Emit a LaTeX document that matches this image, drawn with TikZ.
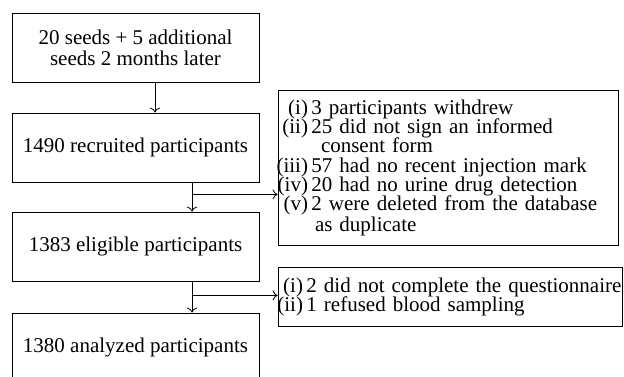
\documentclass[tikz,border=0pt]{standalone}
\usepackage{fontspec}
\setmainfont{Liberation Serif}
\usetikzlibrary{arrows.meta}
\newcommand{\exlabel}[2][29pt]{\makebox[#1][r]{#2}\hspace{3.5pt}}
\begin{document}
\begin{tikzpicture}[x=1pt,y=-1pt,
    box/.style={draw,line width=0.8pt,inner sep=0pt,align=center,font=\fontsize{21}{21}\selectfont},
    note/.style={draw,line width=0.8pt,inner ysep=0pt,inner xsep=1pt,align=left,font=\fontsize{21}{19}\selectfont,
        execute at begin node={\setlength{\lineskiplimit}{-30pt}\hyphenpenalty=10000}},
    flow/.style={-{To[length=5pt,width=10pt]},line width=0.8pt}]
    \clip (0,0) rectangle (624,376);
    % main column
    \node[box,minimum width=247pt,minimum height=69pt] (seeds) at (135.5,47.5) {20 seeds + 5 additional\\seeds 2 months later};
    \node[box,minimum width=247pt,minimum height=69pt] (recruited) at (135.5,147.5) {1490 recruited participants};
    \node[box,minimum width=247pt,minimum height=69pt] (eligible) at (135.5,246.5) {1383 eligible participants};
    \node[box,minimum width=247pt,minimum height=69pt] (analyzed) at (135.5,347.5) {1380 analyzed participants};
    % exclusions
    \node[note,text width=338pt,minimum height=155pt] (excl1) at (448,167.5) {\exlabel{(i)}3 participants withdrew\\
        \exlabel{(ii)}25 did not sign an informed\\
        \hspace*{42pt}consent form\\[1pt]
        \exlabel{(iii)}57 had no recent injection mark\\
        \exlabel{(iv)}20 had no urine drug detection\\
        \exlabel{(v)}2 were deleted from the database\\[2pt]
        \hspace*{36pt}as duplicate};
    \node[note,text width=342pt,minimum height=59pt] (excl2) at (450,296.5) {\mbox{\exlabel[24pt]{(i)}2 did not complete the questionnaire}\\
        \mbox{\exlabel[24pt]{(ii)}1 refused blood sampling}};
    % connectors
    \draw[flow] ([xshift=19.5pt]seeds.south) -- ([xshift=19.5pt]recruited.north);
    \draw[flow] ([xshift=56.5pt]recruited.south) -- ([xshift=56.5pt]eligible.north);
    \draw[flow] ([xshift=56.5pt]eligible.south) -- ([xshift=56.5pt]analyzed.north);
    \coordinate (split1) at ([xshift=56.5pt,yshift=-12pt]recruited.south);
    \coordinate (split2) at ([xshift=56.5pt,yshift=-14pt]eligible.south);
    \draw[flow] (split1) -- (split1 -| excl1.west);
    \draw[flow] (split2) -- (split2 -| excl2.west);
\end{tikzpicture}
\end{document}
